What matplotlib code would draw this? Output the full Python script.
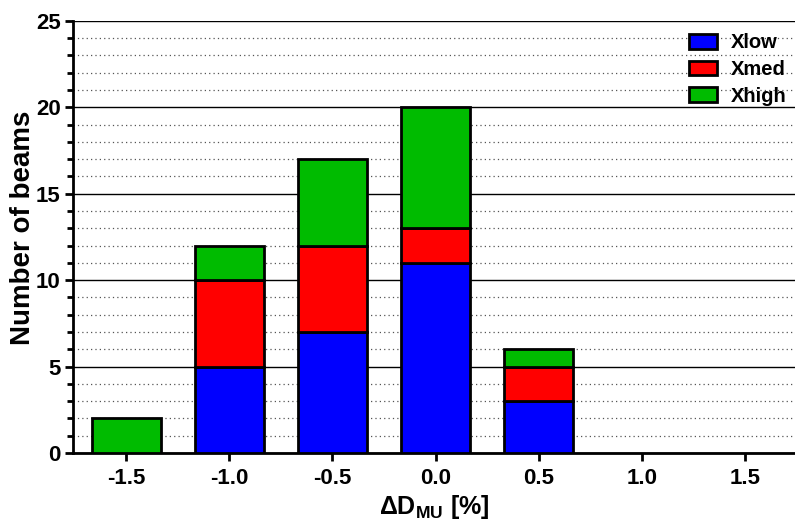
import matplotlib.pyplot as plt
import numpy as np
from matplotlib.ticker import MultipleLocator

plt.rcParams['font.family'] = ['Liberation Sans', 'DejaVu Sans']
plt.rcParams['font.weight'] = 'bold'
plt.rcParams['mathtext.fontset'] = 'custom'
plt.rcParams['mathtext.bf'] = 'Liberation Sans:bold'
plt.rcParams['mathtext.rm'] = 'Liberation Sans:bold'

delta = [-1.5, -1.0, -0.5, 0.0, 0.5, 1.0, 1.5]
xlow = [0, 5, 7, 11, 3, 0, 0]
xmed = [0, 5, 5, 2, 2, 0, 0]
xhigh = [2, 2, 5, 7, 1, 0, 0]
tick_labels = ['-1.5', '-1.0', '-0.5', '0.0', '0.5', '1.0', '1.5']

fig = plt.figure(figsize=(7.95, 5.23), dpi=100)
ax = fig.add_axes([0.092, 0.134, 0.908, 0.826])

x = np.array(delta)
low = np.array(xlow)
med = np.array(xmed)
high = np.array(xhigh)
w = 0.335
kw = dict(width=w, edgecolor='black', linewidth=2, zorder=3)

# skip empty segments so no flat outlines show up on the axis
def stack(vals, bottom, color, label):
    m = vals > 0
    ax.bar(x[m], vals[m], bottom=bottom[m], color=color, label=label, **kw)

stack(low, np.zeros_like(low), '#0000ff', 'Xlow')
stack(med, low, '#ff0000', 'Xmed')
stack(high, low + med, '#00bb00', 'Xhigh')

ax.set_xlim(-1.757, 1.743)
ax.set_ylim(0, 25)
ax.set_xticks(delta)
ax.set_xticklabels(tick_labels)
ax.yaxis.set_major_locator(MultipleLocator(5))
ax.yaxis.set_minor_locator(MultipleLocator(1))

ax.grid(axis='y', which='major', color='black', linewidth=1, zorder=0)
ax.grid(axis='y', which='minor', color='#555555', linestyle=(0, (1, 2.5)), linewidth=0.9, zorder=0)

for s in ['top', 'right']:
    ax.spines[s].set_visible(False)
for s in ['left', 'bottom']:
    ax.spines[s].set_linewidth(2)

ax.tick_params(axis='both', which='major', direction='out', width=2, length=6, labelsize=16)
ax.tick_params(axis='x', which='major', pad=5)
ax.tick_params(axis='y', which='major', pad=3)
ax.tick_params(axis='y', which='minor', direction='out', width=2, length=4)

ax.set_xlabel(r'$\Delta$D$_{\mathbf{MU}}$ [%]', fontsize=18, fontweight='bold', labelpad=3)
ax.set_ylabel('Number of beams', fontsize=20, fontweight='bold')
ax.yaxis.set_label_coords(-0.052, 0.52)

leg = ax.legend(loc='upper right', frameon=False, fontsize=14.5, handlelength=1.4, handleheight=0.75,
                handletextpad=0.7, labelspacing=0.38, borderaxespad=0.0,
                bbox_to_anchor=(1.0, 0.99))

plt.savefig('out.png', dpi=100)
